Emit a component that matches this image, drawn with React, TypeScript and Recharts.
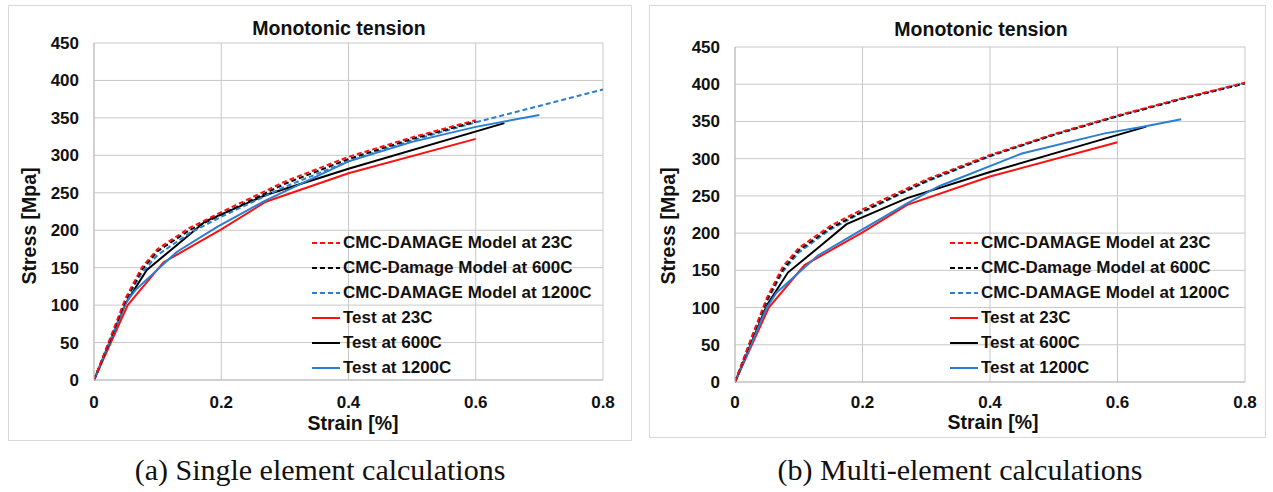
import React from "react";
import { LineChart, Line, XAxis, YAxis, CartesianGrid } from "recharts";

const strainTicks = [0, 0.2, 0.4, 0.6, 0.8];
const stressTicks = [0, 50, 100, 150, 200, 250, 300, 350, 400, 450];
const seriesNames = [
    "CMC-DAMAGE Model at 23C",
    "CMC-Damage Model at 600C",
    "CMC-DAMAGE Model at 1200C",
    "Test at 23C",
    "Test at 600C",
    "Test at 1200C",
];

// [strain %, stress MPa]
const test23 = [[0, 0], [0.053, 100], [0.109, 157], [0.2, 201], [0.27, 238], [0.4, 276], [0.6, 322]];
const test600 = [[0, 0], [0.05, 103], [0.083, 147], [0.13, 180], [0.175, 212], [0.27, 247], [0.4, 282], [0.645, 343]];
const test1200Single = [[0, 0], [0.05, 103], [0.065, 120], [0.13, 171], [0.195, 205], [0.27, 240], [0.4, 292], [0.5, 318], [0.6, 338], [0.7, 354]];
const test1200Multi = [[0, 0], [0.05, 100], [0.065, 120], [0.13, 170], [0.2, 205], [0.27, 240], [0.32, 263], [0.45, 307], [0.58, 334], [0.64, 343], [0.7, 353]];

const singleModel23 = [[0, 0], [0.025, 55], [0.05, 110], [0.075, 150], [0.1, 175], [0.15, 203], [0.2, 224], [0.3, 265], [0.4, 298], [0.5, 324], [0.6, 347]];
const singleModel600 = [[0, 0], [0.025, 53], [0.05, 107], [0.075, 147], [0.1, 172], [0.15, 200], [0.2, 221], [0.3, 262], [0.4, 295], [0.5, 322], [0.6, 345]];
const singleModel1200 = [[0, 0], [0.025, 52], [0.05, 105], [0.075, 143], [0.1, 167], [0.15, 196], [0.2, 218], [0.3, 258], [0.4, 292], [0.5, 320], [0.6, 344], [0.7, 366], [0.8, 388]];

const multiModel23 = [[0, 0], [0.025, 58], [0.05, 113], [0.075, 155], [0.1, 180], [0.15, 210], [0.2, 232], [0.3, 272], [0.4, 305], [0.5, 333], [0.6, 358], [0.7, 381], [0.8, 402]];
const multiModel600 = [[0, 0], [0.025, 56], [0.05, 110], [0.075, 151], [0.1, 177], [0.15, 207], [0.2, 229], [0.3, 270], [0.4, 304], [0.5, 332], [0.6, 357], [0.7, 380], [0.8, 401]];
const multiModel1200 = [[0, 0], [0.025, 55], [0.05, 108], [0.075, 148], [0.1, 174], [0.15, 205], [0.2, 228], [0.3, 269], [0.4, 303], [0.5, 332], [0.6, 357], [0.7, 380], [0.8, 402]];

const RED = "#ff1010";
const BLACK = "#000000";
const BLUE = "#2a7fd0";
const FONT = "'Liberation Sans', Arial, sans-serif";

type Series = { name: string; color: string; dashed: boolean; data: number[][] };

const toPoints = (pairs: number[][]) => pairs.map(([strain, stress]) => ({ strain, stress }));

const singleSeries: Series[] = [
    { name: seriesNames[0], color: RED, dashed: true, data: singleModel23 },
    { name: seriesNames[1], color: BLACK, dashed: true, data: singleModel600 },
    { name: seriesNames[2], color: BLUE, dashed: true, data: singleModel1200 },
    { name: seriesNames[3], color: RED, dashed: false, data: test23 },
    { name: seriesNames[4], color: BLACK, dashed: false, data: test600 },
    { name: seriesNames[5], color: BLUE, dashed: false, data: test1200Single },
];

const multiSeries: Series[] = [
    { name: seriesNames[0], color: RED, dashed: true, data: multiModel23 },
    { name: seriesNames[1], color: BLACK, dashed: true, data: multiModel600 },
    { name: seriesNames[2], color: BLUE, dashed: true, data: multiModel1200 },
    { name: seriesNames[3], color: RED, dashed: false, data: test23 },
    { name: seriesNames[4], color: BLACK, dashed: false, data: test600 },
    { name: seriesNames[5], color: BLUE, dashed: false, data: test1200Multi },
];

function LegendBox({ series, left, top }: { series: Series[]; left: number; top: number }) {
    return (
        <div style={{ position: "absolute", left, top, fontFamily: FONT, fontWeight: 700, fontSize: 17, color: "#111" }}>
            {series.map((s) => (
                <div key={s.name} style={{ display: "flex", alignItems: "center", height: 25 }}>
                    <svg width={28} height={4} style={{ marginRight: 3 }}>
                        <line x1={0} y1={2} x2={28} y2={2} stroke={s.color} strokeWidth={2}
                            strokeDasharray={s.dashed ? "5 3" : undefined} />
                    </svg>
                    <span style={{ whiteSpace: "nowrap" }}>{s.name}</span>
                </div>
            ))}
        </div>
    );
}

type PanelProps = {
    left: number; top: number; width: number; height: number;
    series: Series[];
    margin: { top: number; right: number; bottom: number; left: number };
    xTickMargin: number;
    legendPos: { left: number; top: number };
    titlePos: [number, number];
    yLabelPos: [number, number];
    xLabelPos: [number, number];
};

const labelStyle = (x: number, y: number, rotate = false): React.CSSProperties => ({
    position: "absolute", left: x, top: y,
    transform: "translate(-50%, -50%)" + (rotate ? " rotate(-90deg)" : ""),
    fontFamily: FONT, fontWeight: 700, fontSize: 19.5, color: "#111", whiteSpace: "nowrap", lineHeight: 1,
});

function Panel(p: PanelProps) {
    const drawOrder = [3, 4, 5, 2, 1, 0];
    const tick = { fill: "#111", fontSize: 17, fontWeight: 700, fontFamily: FONT };
    return (
        <div style={{ position: "absolute", left: p.left, top: p.top, width: p.width, height: p.height, border: "1px solid #d9d9d9", boxSizing: "border-box", background: "#fff" }}>
            <LineChart width={p.width - 2} height={p.height - 2} margin={p.margin} style={{ position: "absolute", left: 0, top: 0 }}>
                <CartesianGrid stroke="#c8c8c8" strokeWidth={1} />
                <XAxis type="number" dataKey="strain" domain={[0, 0.8]} ticks={strainTicks} allowDataOverflow
                    axisLine={{ stroke: "#bfbfbf" }} tickLine={false} tickSize={0} tickMargin={p.xTickMargin} height={30}
                    fontSize={17} tick={tick} />
                <YAxis type="number" domain={[0, 450]} ticks={stressTicks} width={50}
                    axisLine={{ stroke: "#bfbfbf" }} tickLine={false} tickSize={0} tickMargin={15}
                    fontSize={17} tick={tick} />
                {drawOrder.map((i) => {
                    const s = p.series[i];
                    return (
                        <Line key={s.name} name={s.name} data={toPoints(s.data)} dataKey="stress" type="linear"
                            stroke={s.color} strokeWidth={2} strokeDasharray={s.dashed ? "5 3" : undefined}
                            dot={false} activeDot={false} isAnimationActive={false} />
                    );
                })}
            </LineChart>
            <LegendBox series={p.series} left={p.legendPos.left} top={p.legendPos.top} />
            <div style={labelStyle(p.titlePos[0], p.titlePos[1])}>Monotonic tension</div>
            <div style={labelStyle(p.yLabelPos[0], p.yLabelPos[1], true)}>Stress [Mpa]</div>
            <div style={labelStyle(p.xLabelPos[0], p.xLabelPos[1])}>Strain [%]</div>
        </div>
    );
}

const captionStyle = (x: number): React.CSSProperties => ({
    position: "absolute", left: x, top: 470, transform: "translate(-50%, -50%)",
    fontFamily: "'Liberation Serif', 'Times New Roman', serif", fontSize: 30, color: "#111", whiteSpace: "nowrap", lineHeight: 1,
});

export default function App() {
    return (
        <div style={{ position: "absolute", left: 0, top: 0, width: 1273, height: 492, background: "#fff", overflow: "hidden" }}>
            <Panel left={8} top={5} width={624} height={436} series={singleSeries}
                margin={{ top: 37, right: 28, bottom: 30, left: 35 }} xTickMargin={16}
                legendPos={{ left: 303, top: 224 }}
                titlePos={[330, 23]} yLabelPos={[21, 220]} xLabelPos={[344, 418]} />
            <Panel left={649} top={5} width={617} height={433} series={multiSeries}
                margin={{ top: 41, right: 20, bottom: 25, left: 35 }} xTickMargin={14}
                legendPos={{ left: 300, top: 224 }}
                titlePos={[331, 24]} yLabelPos={[19, 220]} xLabelPos={[343, 417]} />
            <div style={captionStyle(320)}>(a) Single element calculations</div>
            <div style={captionStyle(960)}>(b) Multi-element calculations</div>
        </div>
    );
}
